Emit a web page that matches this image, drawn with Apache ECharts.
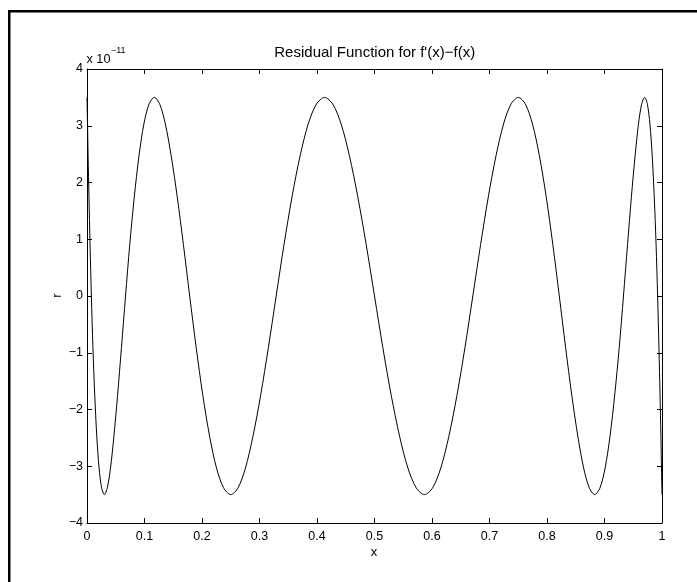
<!DOCTYPE html>
<html>
<head>
<meta charset="utf-8">
<style>
  html, body { margin: 0; padding: 0; background: #fff; }
  #chart { width: 697px; height: 582px; }
</style>
<script src="https://cdn.jsdelivr.net/npm/echarts@6/dist/echarts.min.js"></script>
</head>
<body>
<div id="chart"></div>
<script>
// Residual r(x) of the approximation, in units of 1e-11
const xValues = [
  0, 0.0002, 0.0009, 0.0019, 0.0034, 0.0053, 0.0076, 0.0103, 0.0135, 0.0170,
  0.0210, 0.0254, 0.0302, 0.0353, 0.0409, 0.0468, 0.0532, 0.0599, 0.0670, 0.0744,
  0.0823, 0.0904, 0.0989, 0.1078, 0.1170, 0.1265, 0.1363, 0.1464, 0.1569, 0.1676,
  0.1786, 0.1899, 0.2014, 0.2132, 0.2252, 0.2375, 0.25, 0.2627, 0.2756, 0.2887,
  0.3020, 0.3154, 0.3290, 0.3427, 0.3566, 0.3706, 0.3847, 0.3989, 0.4132, 0.4275,
  0.4420, 0.4564, 0.4709, 0.4855, 0.5, 0.5145, 0.5291, 0.5436, 0.5580, 0.5725,
  0.5868, 0.6011, 0.6153, 0.6294, 0.6434, 0.6573, 0.6710, 0.6846, 0.6980, 0.7113,
  0.7244, 0.7373, 0.75, 0.7625, 0.7748, 0.7868, 0.7986, 0.8101, 0.8214, 0.8324,
  0.8431, 0.8536, 0.8637, 0.8735, 0.8830, 0.8922, 0.9011, 0.9096, 0.9177, 0.9256,
  0.9330, 0.9401, 0.9468, 0.9532, 0.9591, 0.9646, 0.9698, 0.9746, 0.9790, 0.9830,
  0.9865, 0.9897, 0.9924, 0.9947, 0.9966, 0.9981, 0.9991, 0.9998, 1
];
const rValues = [
  3.5, 3.38, 3.03, 2.47, 1.75, 0.91, 0, -0.91, -1.75, -2.47, -3.03, -3.38,
  -3.5, -3.38, -3.03, -2.47, -1.75, -0.91, 0, 0.91, 1.75, 2.47, 3.03, 3.38,
  3.5, 3.38, 3.03, 2.47, 1.75, 0.91, 0, -0.91, -1.75, -2.47, -3.03, -3.38,
  -3.5, -3.38, -3.03, -2.47, -1.75, -0.91, 0, 0.91, 1.75, 2.47, 3.03, 3.38,
  3.5, 3.38, 3.03, 2.47, 1.75, 0.91, 0, -0.91, -1.75, -2.47, -3.03, -3.38,
  -3.5, -3.38, -3.03, -2.47, -1.75, -0.91, 0, 0.91, 1.75, 2.47, 3.03, 3.38,
  3.5, 3.38, 3.03, 2.47, 1.75, 0.91, 0, -0.91, -1.75, -2.47, -3.03, -3.38,
  -3.5, -3.38, -3.03, -2.47, -1.75, -0.91, 0, 0.91, 1.75, 2.47, 3.03, 3.38,
  3.5, 3.38, 3.03, 2.47, 1.75, 0.91, 0, -0.91, -1.75, -2.47, -3.03, -3.38,
  -3.5
];
const xTicks = [0, 0.1, 0.2, 0.3, 0.4, 0.5, 0.6, 0.7, 0.8, 0.9, 1];
const yTicks = [-4, -3, -2, -1, 0, 1, 2, 3, 4];

const titleText = "Residual Function for f'(x)\u2212f(x)";
const xName = 'x';
const yName = 'r';

const FONT = '"Liberation Sans", Arial, Helvetica, sans-serif';
const INK = '#000';

const chart = echarts.init(document.getElementById('chart'), null, { renderer: 'canvas' });

const fmt = v => String(Math.round(v * 10) / 10).replace('-', '\u2212');

const axisCommon = {
  axisLine: { show: true, onZero: false, lineStyle: { color: INK, width: 1 } },
  axisTick: { show: true, inside: true, length: 5, lineStyle: { color: INK, width: 1 } },
  splitLine: { show: false }
};

chart.setOption({
  animation: false,
  backgroundColor: '#fff',
  grid: { left: 87, top: 69, right: 35, bottom: 59, containLabel: false },
  xAxis: [
    Object.assign({
      type: 'value', position: 'bottom',
      min: xTicks[0], max: xTicks[xTicks.length - 1], interval: 0.1,
      axisLabel: { show: true, margin: 7, color: INK, fontFamily: FONT, fontSize: 12.5, formatter: fmt }
    }, axisCommon),
    Object.assign({
      type: 'value', position: 'top',
      min: xTicks[0], max: xTicks[xTicks.length - 1], interval: 0.1,
      axisLabel: { show: false }
    }, axisCommon)
  ],
  yAxis: [
    Object.assign({
      type: 'value', position: 'left',
      min: yTicks[0], max: yTicks[yTicks.length - 1], interval: 1,
      axisLabel: { show: true, margin: 4, color: INK, fontFamily: FONT, fontSize: 12.5, formatter: fmt }
    }, axisCommon),
    Object.assign({
      type: 'value', position: 'right',
      min: yTicks[0], max: yTicks[yTicks.length - 1], interval: 1,
      axisLabel: { show: false }
    }, axisCommon)
  ],
  series: [{
    type: 'line',
    xAxisIndex: 0, yAxisIndex: 0,
    data: xValues.map((x, i) => [x, rValues[i]]),
    smooth: 0.3,
    showSymbol: false,
    lineStyle: { color: INK, width: 1 },
    clip: true
  }],
  graphic: [
    // figure frame edges
    { type: 'rect', shape: { x: 8, y: 10, width: 2.5, height: 572 }, style: { fill: INK }, silent: true },
    { type: 'rect', shape: { x: 8, y: 10, width: 689, height: 2.5 }, style: { fill: INK }, silent: true },
    {
      type: 'text', x: 374.7, y: 53,
      style: { text: titleText, fontFamily: FONT, fontSize: 15, fill: INK, align: 'center', verticalAlign: 'middle' }
    },
    // exponent marker for the r axis
    {
      type: 'text', x: 86.5, y: 59.5,
      style: { text: 'x 10', fontFamily: FONT, fontSize: 12.7, fill: INK, align: 'left', verticalAlign: 'middle' }
    },
    {
      type: 'text', x: 111, y: 51,
      style: { text: '\u221211', fontFamily: FONT, fontSize: 9, fill: INK, align: 'left', verticalAlign: 'middle' }
    },
    {
      type: 'text', x: 374, y: 552,
      style: { text: xName, fontFamily: FONT, fontSize: 13, fill: INK, align: 'center', verticalAlign: 'middle' }
    },
    {
      type: 'text', x: 57, y: 295.5, rotation: Math.PI / 2,
      style: { text: yName, fontFamily: FONT, fontSize: 13, fill: INK, align: 'center', verticalAlign: 'middle' }
    }
  ]
});
</script>
</body>
</html>
